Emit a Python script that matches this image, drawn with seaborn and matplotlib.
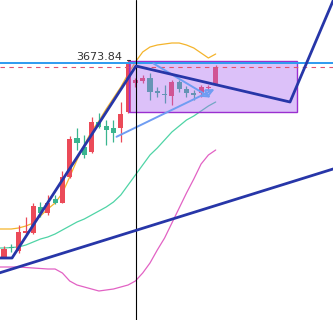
import matplotlib
matplotlib.use("Agg")
import matplotlib.pyplot as plt
import seaborn as sns
import pandas as pd
from matplotlib.patches import Rectangle

# ---- data ----
candle_idx = list(range(30))
opens  = [3286, 3307, 3298, 3334, 3334, 3386, 3374, 3402, 3394, 3446, 3524, 3506, 3496, 3556, 3548,
          3544, 3544, 3576, 3634, 3638, 3644, 3618, 3612, 3608, 3636, 3622, 3614, 3614, 3624, 3632]
highs  = [3308, 3312, 3350, 3366, 3394, 3396, 3410, 3410, 3458, 3528, 3544, 3530, 3566, 3574, 3560,
          3560, 3596, 3680, 3644, 3650, 3654, 3626, 3630, 3640, 3640, 3628, 3620, 3630, 3630, 3670]
lows   = [3284, 3296, 3294, 3332, 3332, 3366, 3370, 3392, 3394, 3444, 3500, 3484, 3494, 3544, 3510,
          3516, 3516, 3574, 3626, 3634, 3600, 3606, 3594, 3590, 3616, 3606, 3600, 3606, 3616, 3630]
closes = [3302, 3304, 3336, 3338, 3388, 3374, 3394, 3394, 3446, 3522, 3514, 3490, 3556, 3546, 3540,
          3534, 3572, 3672, 3640, 3644, 3616, 3614, 3610, 3636, 3622, 3614, 3610, 3626, 3626, 3666]

ma_idx = list(range(-1, 30))
upper_band = [3342, 3342, 3342, 3344, 3348, 3354, 3368, 3382, 3394, 3414, 3446, 3480, 3510, 3538, 3558, 3582,
              3604, 3626, 3652, 3676, 3696, 3706, 3710, 3712, 3714, 3714, 3710, 3704, 3694, 3684, 3692]
mid_band = [3304, 3304, 3305, 3306, 3310, 3316, 3322, 3326, 3332, 3340, 3348, 3356, 3362, 3370, 3378, 3386,
            3396, 3410, 3430, 3450, 3470, 3490, 3504, 3520, 3536, 3548, 3560, 3568, 3578, 3588, 3596]
lower_band = [3266, 3266, 3266, 3266, 3265, 3264, 3263, 3262, 3262, 3254, 3238, 3230, 3226, 3222, 3218, 3220,
              3222, 3226, 3230, 3238, 3254, 3274, 3300, 3324, 3354, 3384, 3414, 3442, 3472, 3490, 3500]

path_x = [-0.6, 1.1, 18.08, 39.18, 45.3]
path_y = [3284, 3284, 3668, 3596, 3806]
support_x = [-1, 46]
support_y = [3252.5, 3466.2]

arrowA = ((20.14, 3676), (28.63, 3602))
arrowB = ((15.07, 3524), (29.18, 3624))

level_price = 3673.84
level_label = "3673.84"
dash_price = 3667
box_x = (17.12, 40.1)
box_y = (3576, 3678)
cursor_x = 18.1

# ---- plot ----
sns.set_theme(style="white")
fig = plt.figure(figsize=(3.33, 3.2), dpi=100)
ax = fig.add_axes([0, 0, 1, 1])
ax.set_xlim(-0.548, 45.07)
ax.set_ylim(3160, 3800)
ax.axis("off")

bands = pd.DataFrame({"i": ma_idx, "upper": upper_band, "mid": mid_band, "lower": lower_band})
sns.lineplot(data=bands, x="i", y="upper", ax=ax, color="#f4b42c", lw=0.9, zorder=2)
sns.lineplot(data=bands, x="i", y="mid", ax=ax, color="#4fd4a6", lw=0.9, zorder=2)
sns.lineplot(data=bands, x="i", y="lower", ax=ax, color="#e262c4", lw=0.9, zorder=2)

red, green = "#eb4a58", "#3ab58f"
for i, o, h, l, c in zip(candle_idx, opens, highs, lows, closes):
    col = red if c >= o else green
    ax.vlines(i, l, h, color=col, lw=0.9, zorder=3)
    bot, top = min(o, c), max(o, c)
    ax.bar(i, max(top - bot, 2), bottom=bot, width=0.7, color=col, zorder=3, linewidth=0)

ax.add_patch(Rectangle((box_x[0], box_y[0]), box_x[1] - box_x[0], box_y[1] - box_y[0],
                       facecolor="#a864f0", alpha=0.4, edgecolor="none", zorder=4))
ax.add_patch(Rectangle((box_x[0], box_y[0]), box_x[1] - box_x[0], box_y[1] - box_y[0],
                       facecolor="none", edgecolor="#9a2fd0", lw=1.0, zorder=5))

ax.axhline(level_price, color="#2e9bf0", lw=1.4, zorder=6)
ax.axhline(dash_price, color="#e05270", lw=0.8, ls=(0, (4, 4)), zorder=6)
ax.axvline(cursor_x, color="black", lw=0.8, zorder=7)
ax.text(16.2, level_price + 2, level_label, ha="right", va="bottom", fontsize=8, color="#333333", zorder=8)
ax.plot([16.8, 17.3], [level_price + 6, level_price + 6], color="#333333", lw=0.8, zorder=8)

for (p0, p1) in (arrowA, arrowB):
    ax.annotate("", xy=p1, xytext=p0,
                arrowprops=dict(arrowstyle="->", color="#6f9df2", lw=1.4, mutation_scale=11), zorder=6)

ax.plot(path_x, path_y, color="#2736a8", lw=2.0, zorder=7, solid_capstyle="round")
ax.plot(support_x, support_y, color="#2736a8", lw=2.0, zorder=7)

fig.savefig("out.png", dpi=100)
